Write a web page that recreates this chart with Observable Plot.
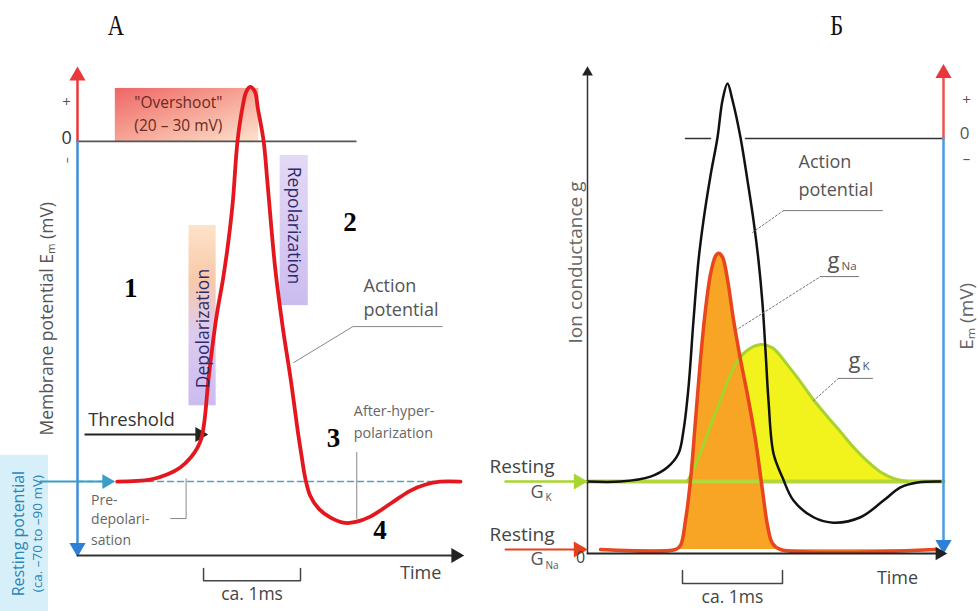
<!DOCTYPE html>
<html><head><meta charset="utf-8">
<script src="https://cdn.jsdelivr.net/npm/d3@7"></script>
<script src="https://cdn.jsdelivr.net/npm/@observablehq/plot@0.6"></script>
<style>
body{margin:0;background:#fff;}
#wrap{position:relative;width:978px;height:611px;overflow:hidden;background:#fff;}
.panel{position:absolute;top:0;}
.ttl{position:absolute;top:8px;font-family:"Liberation Serif",serif;font-size:30px;transform:scaleX(0.75);color:#111;}
</style></head><body>
<div id="wrap">
<div class="ttl" style="left:105px">А</div>
<div class="ttl" style="left:828px">Б</div>
<div id="A" class="panel" style="left:0"></div>
<div id="B" class="panel" style="left:490px"></div>
</div>
<script>
// ---------- data ----------
const panelTitles = ["А", "Б"];
// Panel A: action potential (time ms, membrane potential mV)
const apTimeA = [0.41,0.75,0.93,1.06,1.17,1.24,1.28,1.31,1.35,1.40,1.44,1.50,1.55,1.60,1.65,1.70,1.74,1.78,1.83,1.86,1.92,1.96,2.04,2.12,2.20,2.27,2.31,2.35,2.40,2.49,2.61,2.76,2.87,3.02,3.23,3.43,3.59,3.74,3.95];
const apMvA   = [-70,-69.6,-68.5,-67.1,-65.0,-62.9,-60.9,-57.4,-49.1,-40.8,-35.2,-28.4,-21.5,-12.8,0,6.8,10.2,11.2,10.2,6.8,0,-8.7,-26.3,-38.7,-49.1,-59.4,-64.6,-69.4,-72.9,-75.6,-77.4,-78.5,-78.3,-77.2,-74.5,-71.9,-70.6,-70.0,-70.0];
const restingMv = -70;
// Panel Б: action potential (time ms, mV on right axis)
const apTimeB = [0,0.33,0.63,0.80,0.91,0.96,1.01,1.06,1.11,1.16,1.23,1.30,1.35,1.40,1.45,1.53,1.60,1.66,1.71,1.75,1.78,1.81,1.86,1.95,2.06,2.26,2.46,2.73,2.96,3.13,3.30,3.53];
const apMvB   = [-70,-70,-69.0,-67.1,-64.3,-59.6,-50.8,-37.1,-24.9,-16.7,-7.6,0.2,7.8,11.2,7.8,0.2,-8.6,-16.7,-24.9,-33.7,-43.3,-53.5,-64.3,-69.2,-73.9,-77.3,-78.4,-77.3,-73.9,-71.2,-70.2,-70];
// Na+ conductance (arbitrary units)
const gNaTime  = [0.13,0.88,0.93,0.98,1.03,1.08,1.13,1.18,1.23,1.28,1.31,1.35,1.40,1.46,1.53,1.60,1.68,1.75,1.80,1.85,1.93,3.48];
const gNaValue = [0.82,0.82,1.66,6.83,15.1,27.5,40.0,50.3,57.6,61.3,61.9,61.1,56.5,48.2,40.0,32.7,23.4,13.0,5.8,2.07,0.82,0.82];
const gNaRest = 0.82;
// K+ conductance (arbitrary units)
const gKTime  = [1.00,1.08,1.16,1.25,1.35,1.46,1.58,1.73,1.85,2.00,2.13,2.26,2.40,2.53,2.66,2.80,2.93,3.06,3.20];
const gKValue = [14.85,18.2,22.4,27.5,32.7,38.3,41.6,43.1,42.4,38.9,35.4,31.7,28.2,25.1,21.9,19.0,16.8,15.5,14.85];
const gKRest = 14.85;
// mV -> conductance-axis units for panel Б (0 mV and -70 mV levels)
const emToG = v => 85.57 + 1.0103 * v;

const apA = apTimeA.map((t, i) => ({t, v: apMvA[i]}));
const apB = apTimeB.map((t, i) => ({t, v: apMvB[i]}));
const gNa = gNaTime.map((t, i) => ({t, g: gNaValue[i]}));
const gK  = gKTime.map((t, i) => ({t, g: gKValue[i]}));

// ---------- helpers ----------
const seg = (pts, o) => Plot.line(pts, {stroke: "#333", strokeWidth: 1.5, ...o});
const tri = (x, y, rot, fill, r = 5) => Plot.dot([0], {x, y, symbol: "triangle", r, fill, stroke: null, rotate: rot});
const lab = (text, x, y, o) => Plot.text([text], {x, y, fontSize: 15, fill: "#444", ...o});
const serifNum = {fontFamily: "Liberation Serif, serif", fontWeight: "bold", fontSize: 27, fill: "#000"};
const style = {fontFamily: "'Open Sans', sans-serif", overflow: "visible", background: "transparent"};

// ---------- panel A ----------
const A = Plot.plot({
  width: 490, height: 611,
  marginLeft: 77, marginRight: 30, marginTop: 68, marginBottom: 56,
  x: {domain: [0, 3.95], axis: null},
  y: {domain: [-85.2, 15.0], axis: null},
  style,
  marks: [
    Plot.rect([0], {x1: -0.794, x2: -0.299, y1: -96.8, y2: -64.6, fill: "#d6eff8"}),
    Plot.rect([0], {x1: 0.39, x2: 1.87, y1: -0.2, y2: 10.9, fill: "url(#gOver)"}),
    Plot.rect([0], {x1: 1.15, x2: 1.43, y1: -54.4, y2: -17.3, fill: "url(#gDep)"}),
    Plot.rect([0], {x1: 2.09, x2: 2.38, y1: -33.8, y2: -2.9, fill: "url(#gRep)"}),
    seg([[0, 0], [2.87, 0]], {stroke: "#555", strokeWidth: 1.8}),
    seg([[0, restingMv], [3.95, restingMv]], {stroke: "#4fa3c0", strokeWidth: 1.5, strokeDasharray: "6,4"}),
    // axes
    seg([[0, 0], [0, 13.0]], {stroke: "#e8383a", strokeWidth: 2.5}),
    seg([[0, 0], [0, -83.0]], {stroke: "#3d8fd9", strokeWidth: 2.5}),
    tri(0, 13.5, 0, "#e8383a", 6),
    tri(0, -83.6, 180, "#2f7fd6", 6),
    seg([[0, -85.2], [3.86, -85.2]], {stroke: "#333", strokeWidth: 2}),
    tri(3.9, -85.2, 90, "#222", 5.5),
    // resting arrow
    seg([[-0.38, restingMv], [0.27, restingMv]], {stroke: "#3a9ec8", strokeWidth: 2}),
    tri(0.30, restingMv, 90, "#3a9ec8", 5.5),
    // threshold arrow
    seg([[0.08, -60.3], [1.22, -60.3]], {stroke: "#222", strokeWidth: 1.8}),
    tri(1.26, -60.3, 90, "#222", 5.5),
    // leaders
    seg([[2.23, -45.5], [2.84, -38.1], [3.76, -38.1]], {stroke: "#888", strokeWidth: 1}),
    seg([[2.88, -64], [2.88, -77.6]], {stroke: "#888", strokeWidth: 1}),
    seg([[1.12, -69.4], [1.12, -77.6], [0.96, -77.6]], {stroke: "#888", strokeWidth: 1}),
    // action potential
    Plot.line(apA, {x: "t", y: "v", stroke: "#e3171d", strokeWidth: 3.8, curve: "catmull-rom"}),
    // 1 ms bracket
    seg([[1.30, -87.9], [1.30, -90.4], [2.30, -90.4], [2.30, -87.9]], {stroke: "#444", strokeWidth: 1.5}),
    // texts
    lab("Resting potential", -0.6, -80.7, {rotate: -90, fill: "#2a86b8", fontSize: 16}),
    lab("(ca. –70 to –90 mV)", -0.41, -80.7, {rotate: -90, fill: "#2a86b8", fontSize: 13.5}),
    lab("Membrane potential Eₘ (mV)", -0.31, -36.5, {rotate: -90, fill: "#555", fontSize: 17.5}),
    lab("+", -0.113, 8.0, {fontSize: 15, fill: "#555"}),
    lab("0", -0.113, 0.6, {fontSize: 18, fill: "#333"}),
    lab("–", -0.103, -3.9, {fontSize: 12, fill: "#555", rotate: -90}),
    lab("\"Overshoot\"", 1.04, 7.8, {fontSize: 15.5, fill: "#6b2a22"}),
    lab("(20 – 30 mV)", 1.04, 3.1, {fontSize: 15.5, fill: "#6b2a22"}),
    lab("Depolarization", 1.30, -38.5, {rotate: -90, fontSize: 17.5, fill: "#2d2a6e"}),
    lab("Repolarization", 2.23, -17.3, {rotate: 90, fontSize: 17.5, fill: "#2d2a6e"}),
    lab("Action", 2.95, -29.7, {textAnchor: "start", fontSize: 18, fill: "#555"}),
    lab("potential", 2.95, -34.8, {textAnchor: "start", fontSize: 18, fill: "#555"}),
    lab("Threshold", 0.11, -57.4, {textAnchor: "start", fontSize: 18.5, fill: "#333"}),
    lab("After-hyper-", 2.85, -55.6, {textAnchor: "start", fontSize: 14.3, fill: "#666"}),
    lab("polarization", 2.85, -60.1, {textAnchor: "start", fontSize: 14.3, fill: "#666"}),
    lab("Pre-", 0.14, -73.9, {textAnchor: "start", fontSize: 14, fill: "#666"}),
    lab("depolari-", 0.14, -77.8, {textAnchor: "start", fontSize: 14, fill: "#666"}),
    lab("sation", 0.14, -82.1, {textAnchor: "start", fontSize: 14, fill: "#666"}),
    lab("Time", 3.54, -88.9, {fontSize: 18, fill: "#444"}),
    lab("ca. 1ms", 1.80, -93.3, {fontSize: 17.5, fill: "#444"}),
    lab("1", 0.55, -30.3, serifNum),
    lab("2", 2.81, -16.7, serifNum),
    lab("3", 2.64, -61.1, serifNum),
    lab("4", 3.12, -80.1, serifNum)
  ]
});
d3.select(A).insert("defs", ":first-child").html(`
<linearGradient id="gOver" x1="0" y1="0" x2="1" y2="1">
 <stop offset="0" stop-color="#ee6666"/><stop offset="0.5" stop-color="#f6a596"/><stop offset="1" stop-color="#fde4cf"/>
</linearGradient>
<linearGradient id="gDep" x1="0" y1="0" x2="0" y2="1">
 <stop offset="0" stop-color="#fde3c8"/><stop offset="0.3" stop-color="#f8c9aa"/><stop offset="0.6" stop-color="#dccbef"/><stop offset="1" stop-color="#cbbcef"/>
</linearGradient>
<linearGradient id="gRep" x1="0" y1="0" x2="0" y2="1">
 <stop offset="0" stop-color="#e4d9f5"/><stop offset="1" stop-color="#cbbcef"/>
</linearGradient>`);
document.getElementById("A").append(A);

// ---------- panel Б ----------
const B = Plot.plot({
  width: 488, height: 611,
  marginLeft: 97, marginRight: 35, marginTop: 68, marginBottom: 58,
  x: {domain: [0, 3.56], axis: null},
  y: {domain: [0, 100], axis: null},
  style,
  marks: [
    seg([[0.98, emToG(0)], [1.23, emToG(0)]], {stroke: "#333", strokeWidth: 1.5}),
    seg([[1.58, emToG(0)], [3.56, emToG(0)]], {stroke: "#333", strokeWidth: 1.5}),
    Plot.areaY(gK, {x: "t", y1: gKRest, y2: "g", fill: "#f2f21c", curve: "catmull-rom"}),
    Plot.areaY(gNa, {x: "t", y1: gNaRest, y2: "g", fill: "#f8a424", curve: "catmull-rom"}),
    seg([[0, gKRest], [3.56, gKRest]], {stroke: "#b4d83c", strokeWidth: 4}),
    Plot.line(gK, {x: "t", y: "g", stroke: "#a8d22c", strokeWidth: 3, curve: "catmull-rom"}),
    Plot.line(gNa, {x: "t", y: "g", stroke: "#e8461c", strokeWidth: 3.5, curve: "catmull-rom"}),
    Plot.line(apB, {x: "t", y: d => emToG(d.v), stroke: "#111", strokeWidth: 2.5, curve: "catmull-rom"}),
    // axes
    seg([[0, 0], [0, 98.5]], {stroke: "#333", strokeWidth: 1.5}),
    tri(0, 99.2, 0, "#222", 4),
    seg([[3.56, emToG(0)], [3.56, 98.5]], {stroke: "#ef5050", strokeWidth: 2.5}),
    seg([[3.56, emToG(0)], [3.56, 2.4]], {stroke: "#4a9be0", strokeWidth: 2.5}),
    tri(3.56, 99.0, 0, "#e8383a", 6),
    tri(3.56, 1.8, 180, "#2f7fd6", 6),
    seg([[0, 0], [3.48, 0]], {stroke: "#222", strokeWidth: 2}),
    tri(3.52, 0, 90, "#222", 5),
    // resting arrows
    seg([[-0.82, gKRest], [-0.12, gKRest]], {stroke: "#a8d630", strokeWidth: 2.5}),
    tri(-0.09, gKRest, 90, "#a8d630", 6),
    seg([[-0.82, gNaRest], [-0.12, gNaRest]], {stroke: "#e8401c", strokeWidth: 2}),
    tri(-0.09, gNaRest, 90, "#e8401c", 6),
    // leaders
    seg([[1.65, 66.2], [1.96, 70.7]], {stroke: "#777", strokeWidth: 1, strokeDasharray: "2,2"}),
    seg([[1.96, 70.7], [2.95, 70.7]], {stroke: "#777", strokeWidth: 1}),
    seg([[1.48, 46.0], [2.33, 57.1]], {stroke: "#777", strokeWidth: 1, strokeDasharray: "2,2"}),
    seg([[2.33, 57.1], [2.71, 57.1]], {stroke: "#777", strokeWidth: 1}),
    seg([[2.26, 31.5], [2.51, 36.1]], {stroke: "#777", strokeWidth: 1, strokeDasharray: "2,2"}),
    seg([[2.51, 36.1], [2.85, 36.1]], {stroke: "#777", strokeWidth: 1}),
    // bracket
    seg([[0.95, -3.5], [0.95, -6.2], [1.95, -6.2], [1.95, -3.5]], {stroke: "#444", strokeWidth: 1.5}),
    // texts
    lab("Ion conductance g", -0.12, 60, {rotate: -90, fontSize: 19, fill: "#666"}),
    lab("Eₘ (mV)", 3.79, 48.9, {rotate: -90, fontSize: 19, fill: "#666"}),
    lab("+", 3.79, 93.4, {fontSize: 15, fill: "#555"}),
    lab("0", 3.77, 86.6, {fontSize: 17, fill: "#555"}),
    lab("–", 3.79, 81.4, {fontSize: 15, fill: "#555"}),
    lab("Action", 2.11, 80.6, {textAnchor: "start", fontSize: 18, fill: "#555"}),
    lab("potential", 2.11, 74.8, {textAnchor: "start", fontSize: 18, fill: "#555"}),
    lab("g", 2.40, 60.4, {textAnchor: "start", fontSize: 22, fill: "#555"}),
    lab("Na", 2.54, 59.3, {textAnchor: "start", fontSize: 11.5, fill: "#555"}),
    lab("g", 2.61, 39.6, {textAnchor: "start", fontSize: 22, fill: "#555"}),
    lab("K", 2.75, 38.6, {textAnchor: "start", fontSize: 11.5, fill: "#555"}),
    lab("Resting", -0.98, 17.9, {textAnchor: "start", fontSize: 19, fill: "#444"}),
    lab("G", -0.57, 12.6, {textAnchor: "start", fontSize: 18, fill: "#555"}),
    lab("K", -0.42, 11.4, {textAnchor: "start", fontSize: 10, fill: "#555"}),
    lab("Resting", -0.98, 3.9, {textAnchor: "start", fontSize: 19, fill: "#444"}),
    lab("G", -0.57, -1.2, {textAnchor: "start", fontSize: 18, fill: "#555"}),
    lab("Na", -0.42, -2.5, {textAnchor: "start", fontSize: 10, fill: "#555"}),
    lab("0", -0.07, -1.0, {fontSize: 16, fill: "#444"}),
    lab("Time", 3.10, -5.2, {fontSize: 18, fill: "#444"}),
    lab("ca. 1ms", 1.45, -9.1, {fontSize: 17.5, fill: "#444"})
  ]
});
document.getElementById("B").append(B);
</script>
</body></html>
